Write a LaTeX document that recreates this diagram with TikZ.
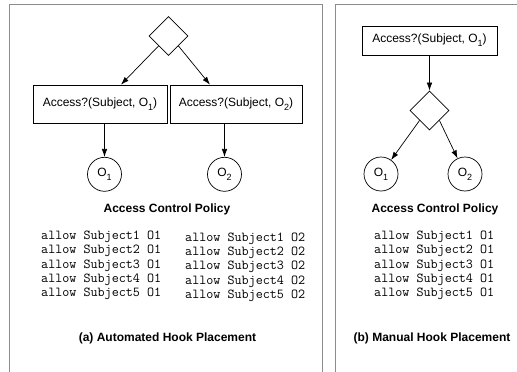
\documentclass[tikz,border=0pt]{standalone}
\usepackage{fontspec}
\setmainfont{Liberation Sans}
\usetikzlibrary{shapes.geometric,arrows.meta}
\newcommand\sbx[1]{\raisebox{-0.35em}{\fontsize{9}{9}\selectfont #1}}
\begin{document}
\begin{tikzpicture}[x=1pt,y=-1pt,
  panel/.style={draw=black!45,line width=0.9pt},
  dec/.style={draw,diamond,minimum width=39pt,minimum height=39pt,inner sep=0pt,line width=0.7pt},
  qbox/.style={draw,rectangle,inner sep=0pt,line width=0.7pt,font=\fontsize{12}{14}\selectfont},
  obj/.style={draw,circle,minimum size=34pt,inner sep=0pt,line width=0.7pt,font=\fontsize{12}{14}\selectfont},
  conn/.style={draw,line width=0.7pt,-{Latex[length=8pt,width=5.5pt]}},
  ttl/.style={font=\fontsize{12}{14}\selectfont\bfseries},
  pol/.style={align=left,inner sep=0pt,font=\fontsize{13.7}{14.3}\selectfont\ttfamily}
]
\useasboundingbox (0,0) rectangle (517,372);
% panels
\draw[panel] (9,372) -- (9,4) -- (322,4) -- (322,372);
\draw[panel] (335,372) -- (335,4) -- (517,4);

% ---- panel (a)
\node[dec] (dA) at (168.5,36) {};
\node[qbox,minimum width=134pt,minimum height=38pt] (b1) at (100,104) {Access?(Subject, O\sbx{1})};
\node[qbox,minimum width=132pt,minimum height=38pt] (b2) at (236,104) {Access?(Subject, O\sbx{2})};
\node[obj] (c1) at (104.5,174.3) {O\sbx{1}};
\node[obj] (c2) at (224.5,174.3) {O\sbx{2}};
\draw[conn] (dA.south west) -- ([xshift=21pt]b1.north);
\draw[conn] (dA.south east) -- ([xshift=-26pt]b2.north);
\draw[conn] (c1 |- b1.south) -- (c1);
\draw[conn] (c2 |- b2.south) -- (c2);
\node[ttl] (tA) at (167,209) {Access Control Policy};
\node[pol] (pA1) at (101.2,265.5) {allow Subject1 O1\\allow Subject2 O1\\allow Subject3 O1\\allow Subject4 O1\\allow Subject5 O1};
\node[pol] (pA2) at (245.2,267) {allow Subject1 O2\\allow Subject2 O2\\allow Subject3 O2\\allow Subject4 O2\\allow Subject5 O2};
\node[ttl] (capA) at (167.5,338) {(a) Automated Hook Placement};

% ---- panel (b)
\node[qbox,minimum width=135pt,minimum height=29pt] (b3) at (429.5,40.5) {Access?(Subject, O\sbx{1})};
\node[dec] (dB) at (429.5,110.5) {};
\node[obj] (c3) at (381,174) {O\sbx{1}};
\node[obj] (c4) at (465,174) {O\sbx{2}};
\draw[conn] (b3) -- (dB);
\draw[conn] (dB.south west) -- (c3);
\draw[conn] (dB.south east) -- (c4);
\node[ttl] (tB) at (435,209) {Access Control Policy};
\node[pol] (pB) at (434.2,265.5) {allow Subject1 O1\\allow Subject2 O1\\allow Subject3 O1\\allow Subject4 O1\\allow Subject5 O1};
\node[ttl] (capB) at (432,338) {(b) Manual Hook Placement};
\end{tikzpicture}
\end{document}
